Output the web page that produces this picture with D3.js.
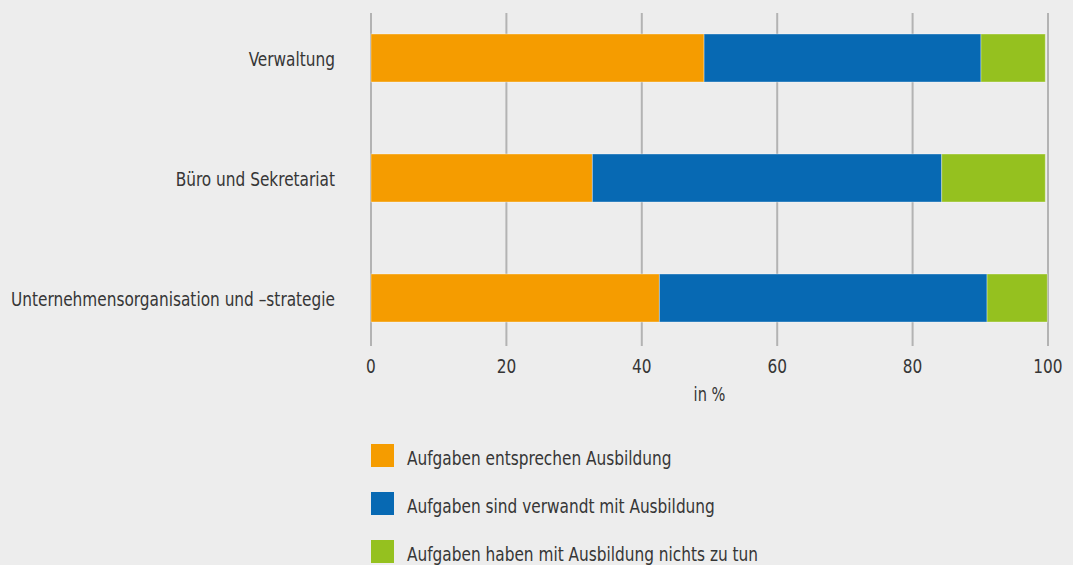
<!DOCTYPE html>
<html>
<head>
<meta charset="utf-8">
<script src="https://cdn.jsdelivr.net/npm/d3@7"></script>
<style>
  html, body { margin: 0; padding: 0; background: #ededed; }
  svg { display: block; }
  text { font-family: "DejaVu Sans", sans-serif; font-stretch: condensed; fill: #363636; }
</style>
</head>
<body>
<svg id="chart" width="1073" height="565"></svg>
<script>
const categories = ["Verwaltung", "Büro und Sekretariat", "Unternehmensorganisation und –strategie"];
const seriesNames = ["Aufgaben entsprechen Ausbildung", "Aufgaben sind verwandt mit Ausbildung", "Aufgaben haben mit Ausbildung nichts zu tun"];
const entsprechen = [49.2, 32.7, 42.6];
const verwandt = [40.9, 51.6, 48.4];
const nichts = [9.5, 15.3, 8.9];
const tickValues = [0, 20, 40, 60, 80, 100];
const colors = ["#f59c00", "#0769b3", "#95c11f"];
const axisTitle = "in %";

const svg = d3.select("#chart");
svg.append("rect").attr("width", 1073).attr("height", 565).attr("fill", "#ededed");

const x = d3.scaleLinear().domain([0, 100]).range([371, 1048]);
const y = d3.scaleBand().domain(categories).range([-2, 358]).paddingInner(0.6).paddingOuter(0.3);

const gridTop = 13, gridBottom = 346;

svg.append("g").selectAll("line").data(tickValues).join("line")
  .attr("x1", d => x(d)).attr("x2", d => x(d))
  .attr("y1", gridTop).attr("y2", gridBottom)
  .attr("stroke", "#b3b3b3").attr("stroke-width", 2);

const seriesArrays = [entsprechen, verwandt, nichts];
const rows = categories.map((c, i) => {
  const o = { cat: c };
  seriesNames.forEach((s, j) => o[s] = seriesArrays[j][i]);
  return o;
});
const stack = d3.stack().keys(seriesNames)(rows);

svg.append("g").selectAll("g").data(stack).join("g")
  .attr("fill", (d, i) => colors[i])
  .selectAll("rect").data(d => d).join("rect")
  .attr("x", d => x(d[0]))
  .attr("width", d => x(d[1]) - x(d[0]))
  .attr("y", d => y(d.data.cat))
  .attr("height", y.bandwidth())
  .attr("stroke", "rgba(255,255,255,0.35)")
  .attr("stroke-width", 1);

const allTexts = [];

const catLabels = svg.append("g").selectAll("text").data(categories).join("text")
  .attr("x", 335)
  .attr("y", d => y(d) + y.bandwidth() / 2 + 8)
  .attr("text-anchor", "end")
  .attr("font-size", 20)
  .text(d => d);
catLabels.each(function() { allTexts.push(this); });

const tickLabels = svg.append("g").selectAll("text").data(tickValues).join("text")
  .attr("x", d => x(d))
  .attr("y", 373)
  .attr("text-anchor", "middle")
  .attr("font-size", 20)
  .text(d => d);
tickLabels.each(function() { allTexts.push(this); });

const title = svg.append("text")
  .attr("x", x(50))
  .attr("y", 401)
  .attr("text-anchor", "middle")
  .attr("font-size", 19)
  .text(axisTitle);
allTexts.push(title.node());

const legend = svg.append("g").selectAll("g").data(seriesNames).join("g")
  .attr("transform", (d, i) => `translate(371, ${444 + i * 48})`);
legend.append("rect").attr("width", 23).attr("height", 23).attr("fill", (d, i) => colors[i]);
legend.append("text").attr("x", 36).attr("y", 21).attr("font-size", 20).text(d => d)
  .each(function() { allTexts.push(this); });

// condense all texts uniformly so the longest category label fits its reference width
const longest = catLabels.filter((d, i) => i === 2).node();
const k = Math.min(1, 324 / longest.getComputedTextLength());
allTexts.forEach(t => {
  const w = t.getComputedTextLength();
  d3.select(t).attr("textLength", w * k).attr("lengthAdjust", "spacingAndGlyphs");
});
</script>
</body>
</html>
